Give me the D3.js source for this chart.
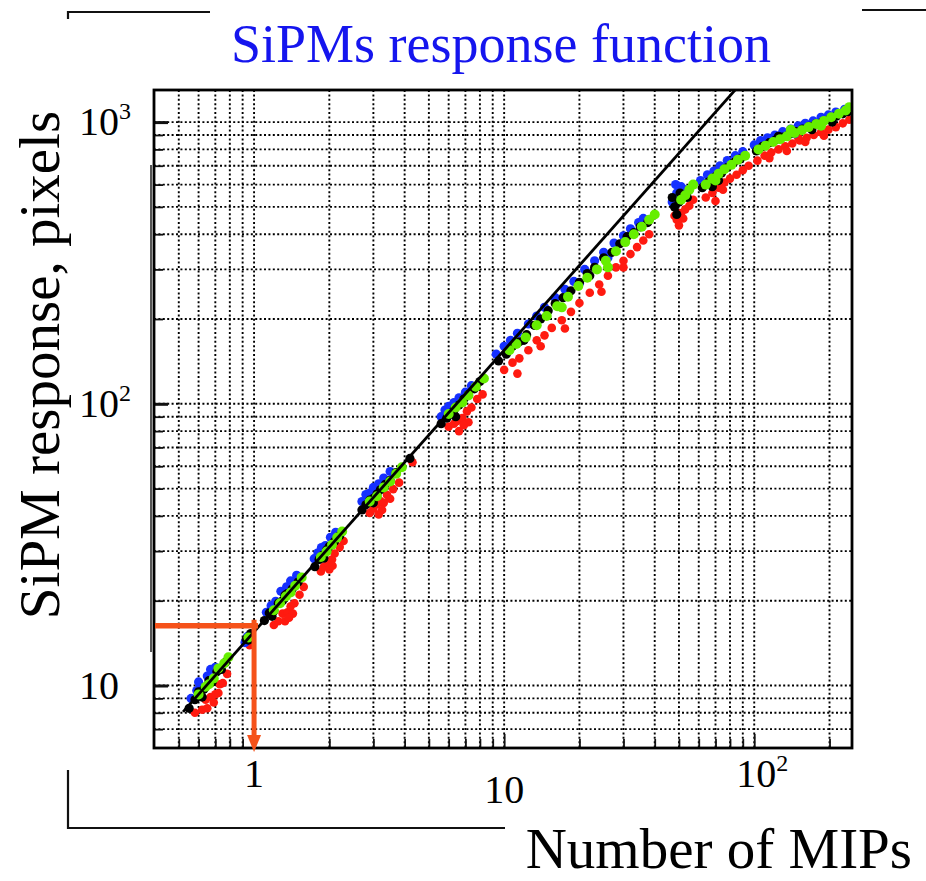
<!DOCTYPE html>
<html><head><meta charset="utf-8">
<script src="https://cdn.jsdelivr.net/npm/d3@7"></script>
<style>
html,body{margin:0;padding:0;background:#fff;}
svg{display:block;}
text{font-family:"Liberation Serif","DejaVu Serif",serif;}
</style></head>
<body>
<script>
// ---------- data ----------
const chartTitle = "SiPMs response function";
const xTitle = "Number of MIPs";
const yTitle = "SiPM response, pixels";
const xDomain = [0.398, 246];
const yDomain = [6, 1300];
const xGrid = [0.5,0.6,0.7,0.8,0.9,1,2,3,4,5,6,7,8,9,10,20,30,40,50,60,70,80,90,100,200];
const yGrid = [7,8,9,10,20,30,40,50,60,70,80,90,100,200,300,400,500,600,700,800,900,1000];
const xLabels = [{v:1, base:"1", sup:""},{v:10, base:"10", sup:""},{v:100, base:"10", sup:"2"}];
const yLabels = [{v:10, base:"10", sup:""},{v:100, base:"10", sup:"2"},{v:1000, base:"10", sup:"3"}];
const linearGain = 15.5;           // pixels per MIP of the straight reference line
const lineRange = [0.52, 90];
const markX = 1, markY = 16.3;      // orange marker: 1 MIP

const redPoints = [
 [0.58,8.0],[0.62,8.2],[0.64,8.9],[0.67,9.1],[0.7,9.3],[0.73,10.1],[0.75,10.2],[0.78,11.0],[0.65,8.3],[0.72,9.4],[0.69,8.7],
 [0.96,13.9],
 [1.2,16.4],[1.25,16.9],[1.3,18.0],[1.36,18.2],[1.4,19.1],[1.45,19.6],[1.52,21.0],[1.58,22.4],[1.33,16.9],[1.43,18.0],[1.38,17.4],
 [1.85,25.4],[1.9,26.4],[1.98,27.0],[2.05,28.0],[2.1,29.4],[2.2,31.0],[2.28,32.6],[2.0,25.8],[2.06,26.6],
 [2.9,41.0],[3.0,42.4],[3.1,44.0],[3.2,45.2],[3.3,44.5],[3.4,47.5],[3.6,49.8],[3.8,52.5],[3.15,40.5],[3.5,46.0],[3.25,42.0],[4.3,62],
 [6.0,83],[6.3,85],[6.5,87],[6.8,89],[7.1,94],[7.4,97],[7.8,104],[8.2,108],[6.6,80],[7.2,86],[6.9,84],
 [10.0,132],[10.8,140],[11.5,145],[12.5,155],[13.5,168],[14.5,175],[15.5,186],[17,198],[18.5,212],[20,228],[22,248],
 [24,265],[26,285],[28,305],[30,322],[32,340],[34,360],[36,380],[38,400],[11.3,128],[17.5,185],[24.5,250],[14,160],[30,305],
 [49,450],[51,475],[53,490],[55,505],[50,430],[57,530],[48,465],[52,455],
 [64,540],[68,560],[72,585],[76,610],[80,630],[85,650],[90,675],[70,525],[95,700],[75,575],
 [103,730],[110,760],[117,780],[125,800],[133,820],[142,840],[152,860],[162,880],[173,900],[185,920],[198,940],
 [212,960],[226,990],[240,1020],[115,745],[135,790],[160,850],[190,895],[150,880]
];
const bluePoints = [
 [0.56,9.0],[0.59,9.6],[0.61,9.9],[0.65,10.8],[0.67,11.4],[0.7,11.6],[0.6,10.3],
 [0.92,14.2],[0.94,14.9],[0.96,15.1],
 [1.12,18.2],[1.17,19.2],[1.22,19.9],[1.28,21.6],[1.35,22.4],[1.4,23.5],[1.48,24.6],
 [1.74,28.2],[1.8,29.6],[1.86,30.9],[1.93,31.4],[2.02,33.6],[2.12,35.0],
 [2.7,45.0],[2.8,47.6],[2.9,48.2],[3.0,50.5],[3.15,52.0],[3.3,54.5],[3.5,57.5],
 [5.6,90],[5.8,95],[6.0,98],[6.3,101],[6.6,105],[7.0,110],[7.4,116],
 [9.3,150],[10.0,160],[10.6,168],[11.3,178],[12.5,192],[13.5,205],[14.5,220],[16.0,238],[17.5,255],[19,272],
 [21,300],[23,322],[25,345],[27.5,372],[30,395],[32,418],[34.5,440],[36,455],[26,330],[20,268],
 [47,520],[49,560],[51,590],[48.5,600],[53,575],[50,540],
 [61,620],[65,650],[69,670],[73,700],[78,730],[84,760],[90,785],[66,610],
 [100,830],[106,860],[113,880],[121,900],[130,925],[140,945],[150,970],[160,990],[172,1010],[185,1040],
 [198,1060],[212,1085],[230,1110],[110,830],[145,910]
];
const blackPoints = [
 [0.55,8.3],[0.58,8.9],[0.6,9.5],[0.63,9.7],[0.66,10.4],[0.68,10.3],[0.71,11.2],[0.74,11.4],[0.77,12.1],[0.62,9.1],
 [0.93,14.6],[0.95,14.5],[0.97,15.3],
 [1.1,17.0],[1.15,18.1],[1.2,18.4],[1.25,19.6],[1.3,20.0],[1.36,21.2],[1.42,22.0],[1.5,23.3],[1.18,17.6],[1.33,20.9],
 [1.75,26.4],[1.82,28.0],[1.88,29.0],[1.95,30.3],[2.0,31.2],[2.1,32.5],[2.2,34.0],[1.9,28.3],
 [2.7,42.0],[2.8,43.8],[2.9,45.5],[3.0,46.2],[3.1,47.8],[3.2,49.5],[3.35,51.8],[3.5,53.5],[3.7,57.0],[3.0,44.5],[4.2,64],
 [5.6,85],[5.9,89],[6.1,92],[6.3,95],[6.6,99],[6.9,104],[7.2,108],[7.6,113],[8.0,120],[6.4,90],
 [9.5,142],[10.2,150],[10.8,160],[11.5,166],[12.3,176],[13.2,190],[14.0,200],[15.0,214],[16.0,227],[17.2,238],
 [18.5,252],[20,270],[21.5,290],[23,305],[25,330],[27,345],[29,370],[31,392],[33,405],[35,425],[37.5,440],[12.0,168],[22,285],
 [48,500],[50,520],[52,545],[50.5,560],[49,470],[54,540],[47,540],
 [62,585],[66,615],[70,640],[74,660],[78,690],[83,720],[88,740],[68,590],[72,620],
 [102,790],[108,820],[115,845],[122,865],[130,885],[138,905],[147,925],[156,945],[166,965],[176,985],
 [188,1005],[200,1025],[213,1050],[226,1070],[238,1090],[125,890],[170,940],[205,1000]
];
const greenPoints = [
 [0.6,9.3],[0.64,9.9],[0.69,10.6],[0.72,11.5],[0.76,12.0],[0.79,12.6],[0.66,10.1],
 [0.95,14.8],
 [1.2,18.5],[1.27,19.6],[1.34,20.7],[1.4,21.4],[1.46,22.6],[1.55,24.2],
 [1.85,28.6],[1.95,29.9],[2.05,31.6],[2.15,33.5],[2.25,35.2],
 [2.9,45.0],[3.1,47.0],[3.3,50.5],[3.5,53.0],[3.7,56.5],[3.9,59.5],
 [6.0,92],[6.4,97],[6.8,101],[7.2,107],[7.7,115],[8.3,123],
 [10.5,155],[11.2,163],[12.2,172],[13.5,190],[14.8,205],[16.3,222],[18,240],[19.8,262],[21.5,280],[23.5,300],
 [25.5,322],[28,348],[30.5,375],[33,400],[35.5,425],[38,450],[40,470],[17,220],[26,305],
 [53,550],[55,575],[57,600],[51,530],
 [64,600],[68,630],[72,655],[76,680],[81,705],[86,735],[92,760],[70,620],
 [104,800],[111,825],[119,850],[127,870],[135,890],[145,915],[155,935],[165,960],[177,985],[190,1010],
 [203,1040],[218,1070],[232,1100],[240,1130],[140,940],[185,970]
];
const series = [
 {name:"red",   color:"#ff1a10", pts:redPoints,   r:4.3},
 {name:"blue",  color:"#1530ff", pts:bluePoints,  r:4.6},
 {name:"black", color:"#000000", pts:blackPoints, r:4.6},
 {name:"green", color:"#66ee00", pts:greenPoints, r:5.0}
];

// ---------- drawing ----------
const W = 926, H = 881;
const P = {left:154, right:852, top:90, bottom:748};
const svg = d3.select("body").append("svg").attr("width", W).attr("height", H);

const x = d3.scaleLog().domain(xDomain).range([P.left, P.right]);
const y = d3.scaleLog().domain(yDomain).range([P.bottom, P.top]);

// slide artifacts (frame fragments)
const art = svg.append("g").attr("stroke", "#111").attr("fill", "none").attr("stroke-width", 2.2);
art.append("path").attr("d", "M68,19V12H210");
art.append("path").attr("d", "M862,10H926");
art.append("path").attr("d", "M68,770V828H505");
svg.append("line").attr("x1",151).attr("x2",151).attr("y1",165).attr("y2",652)
  .attr("stroke","#555").attr("stroke-width",2);

// title
svg.append("text").attr("x", 501).attr("y", 62).attr("text-anchor","middle")
  .attr("font-size", 54).attr("fill", "#1515ee").text(chartTitle);

// clip
svg.append("clipPath").attr("id","plotclip").append("rect")
  .attr("x",P.left).attr("y",P.top).attr("width",P.right-P.left).attr("height",P.bottom-P.top);

// grid
const grid = svg.append("g").attr("stroke","#000").attr("stroke-width",1.9).attr("stroke-dasharray","2,2.4");
grid.selectAll(".vg").data(xGrid).join("line")
  .attr("x1", d=>x(d)).attr("x2", d=>x(d)).attr("y1", P.top).attr("y2", P.bottom);
grid.selectAll(".hg").data(yGrid).join("line")
  .attr("x1", P.left).attr("x2", P.right).attr("y1", d=>y(d)).attr("y2", d=>y(d));

// axes ticks (inward)
const xAx = svg.append("g").attr("transform",`translate(0,${P.bottom})`)
  .call(d3.axisBottom(x).tickValues(xGrid).tickSize(-9).tickFormat(""));
const yAx = svg.append("g").attr("transform",`translate(${P.left},0)`)
  .call(d3.axisLeft(y).tickValues(yGrid).tickSize(-9).tickFormat(""));
[xAx,yAx].forEach(g=>{ g.select(".domain").remove(); g.selectAll("line").attr("stroke","#111").attr("stroke-width",1.8); });
yAx.selectAll(".tick").filter(d=>[10,100,1000].includes(d)).select("line").attr("x2",14).attr("stroke-width",3);
xAx.selectAll(".tick").filter(d=>[1,10,100].includes(d)).select("line").attr("y2",-14);

// data points
const dataG = svg.append("g").attr("clip-path","url(#plotclip)");
series.forEach(s=>{
  dataG.append("g").attr("fill", s.color).selectAll("circle").data(s.pts).join("circle")
    .attr("cx", d=>x(d[0])).attr("cy", d=>y(d[1])).attr("r", s.r);
});

// straight line
dataG.append("line")
  .attr("x1", x(lineRange[0])).attr("y1", y(lineRange[0]*linearGain))
  .attr("x2", x(lineRange[1])).attr("y2", y(lineRange[1]*linearGain))
  .attr("stroke","#000").attr("stroke-width",2.8);

// frame
svg.append("rect").attr("x",P.left).attr("y",P.top).attr("width",P.right-P.left).attr("height",P.bottom-P.top)
  .attr("fill","none").attr("stroke","#000").attr("stroke-width",2.8);

// orange marker
const orange = "#f5521a";
svg.append("line").attr("x1",P.left+1).attr("x2",x(markX)+4).attr("y1",y(markY)).attr("y2",y(markY))
  .attr("stroke",orange).attr("stroke-width",5.5);
svg.append("line").attr("x1",x(markX)).attr("x2",x(markX)).attr("y1",y(markY)-6).attr("y2",P.bottom-10)
  .attr("stroke",orange).attr("stroke-width",5);
svg.append("path")
  .attr("d",`M${x(markX)-7},${P.bottom-13}L${x(markX)+7},${P.bottom-13}L${x(markX)},${P.bottom+4}Z`)
  .attr("fill",orange);

// tick labels
function label(g, d, xx, yy, anchor, fs){
  const t = g.append("text").attr("x",xx).attr("y",yy).attr("text-anchor",anchor).attr("font-size",fs).attr("fill","#000");
  t.append("tspan").text(d.base);
  if(d.sup) t.append("tspan").attr("font-size",fs*0.6).attr("dy",-fs*0.4).text(d.sup);
  return t;
}
const lab = svg.append("g");
xLabels.forEach(d=>{
  const dy = d.v===10 ? 803 : 787;
  const xx = d.sup ? x(d.v)+8 : x(d.v);
  label(lab, d, xx, dy, "middle", 40);
});
yLabels.forEach(d=>{
  label(lab, d, 79, y(d.v)+13, "start", 40);
});

// axis titles
svg.append("text").attr("x", 912).attr("y", 868).attr("text-anchor","end")
  .attr("font-size", 57).attr("fill","#000").text(xTitle);
svg.append("text").attr("transform","translate(59,365) rotate(-90)").attr("text-anchor","middle")
  .attr("font-size", 57).attr("fill","#000").text(yTitle);
</script>
</body></html>
